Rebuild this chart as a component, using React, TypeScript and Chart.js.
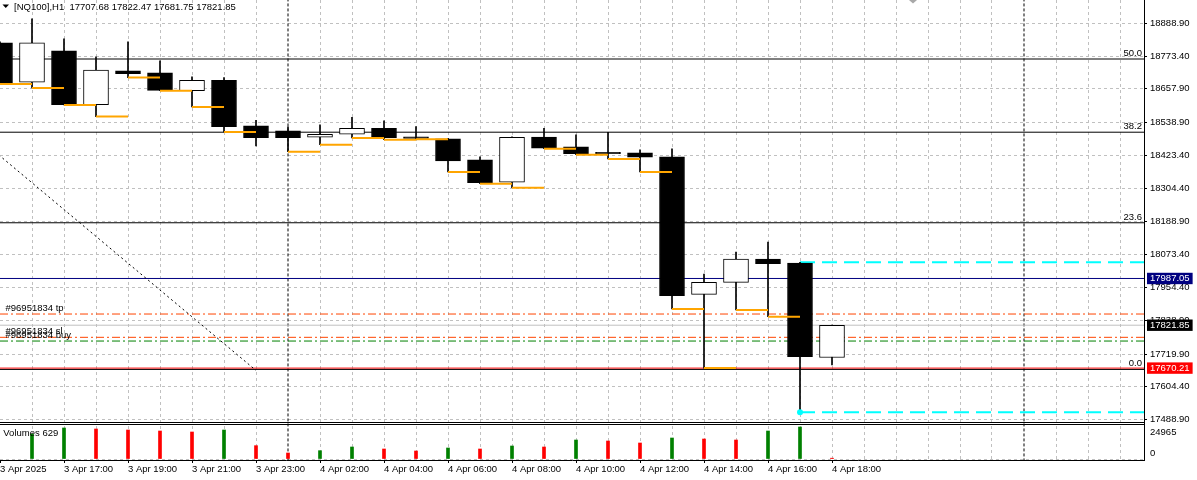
import React, { useEffect, useRef } from 'react';
import { Chart, registerables } from 'chart.js';

Chart.register(...registerables);

const FONT_FAMILY = '"Liberation Sans", Arial, Helvetica, sans-serif';
const FONT_SIZE = 9.5;

// ---- bars (H1, NQ100) ----
const barIndex = [0, 1, 2, 3, 4, 5, 6, 7, 8, 9, 10, 11, 12, 13, 14, 15, 16, 17, 18, 19, 20, 21, 22, 23, 24, 25, 26];
const opens = [18819.9, 18680.9, 18791.6, 18601.7, 18720.9, 18713.8, 18651.2, 18688.0, 18526.4, 18508.7, 18486.4, 18497.0, 18518.2, 18483.9, 18480.4, 18406.1, 18327.2, 18487.4, 18452.1, 18431.6, 18430.9, 18416.7, 17931.1, 17973.5, 18055.9, 18041.8, 17707.68];
const highs = [18823.5, 18904.8, 18834.1, 18770.4, 18823.5, 18756.3, 18699.7, 18697.2, 18545.8, 18522.8, 18529.9, 18557.1, 18544.0, 18523.9, 18482.2, 18416.7, 18488.1, 18518.2, 18494.5, 18504.1, 18441.5, 18445.0, 18002.9, 18080.7, 18116.1, 18044.3, 17822.47];
const lows = [18674.9, 18660.8, 18600.6, 18559.3, 18697.2, 18651.0, 18593.6, 18505.1, 18455.6, 18435.5, 18460.2, 18483.9, 18477.9, 18479.7, 18363.7, 18322.3, 18308.1, 18446.1, 18424.9, 18409.6, 18363.7, 17879.1, 17670.4, 17875.6, 17851.9, 17513.7, 17681.75];
const closes = [18679.5, 18819.9, 18601.7, 18723.4, 18711.3, 18652.0, 18688.0, 18523.9, 18485.0, 18485.0, 18497.0, 18518.2, 18485.0, 18482.2, 18402.6, 18325.8, 18486.4, 18447.5, 18428.4, 18428.0, 18415.7, 17926.1, 17973.5, 18055.9, 18039.3, 17710.4, 17821.85];
const volumes = [null, 19500, 24180, 23400, 22620, 21840, 21060, 22620, 10400, 4680, 6500, 9360, 7800, 6240, 8580, 7800, 10140, 9360, 14820, 14040, 12480, 16380, 15600, 14820, 21840, 24965, 629];
// bars whose low is marked by the orange step segment
const lowMarkBars = [0, 1, 2, 3, 4, 5, 6, 7, 9, 10, 11, 12, 13, 14, 15, 16, 17, 18, 19, 20, 21, 22, 23, 24];

// ---- time axis ----
const gridBars = [0, 1, 2, 3, 4, 5, 6, 7, 8, 9, 10, 11, 12, 13, 14, 15, 16, 17, 18, 19, 20, 21, 22, 23, 24, 25, 26, 27, 28, 29, 30, 31, 32, 33, 34, 35];
const tickBarIndex = [0, 2, 4, 6, 8, 10, 12, 14, 16, 18, 20, 22, 24, 26];
const tickLabels = ['3 Apr 2025', '3 Apr 17:00', '3 Apr 19:00', '3 Apr 21:00', '3 Apr 23:00', '4 Apr 02:00', '4 Apr 04:00', '4 Apr 06:00', '4 Apr 08:00', '4 Apr 10:00', '4 Apr 12:00', '4 Apr 14:00', '4 Apr 16:00', '4 Apr 18:00'];
const separatorBars = [9, 32];

// ---- price axis ----
const priceTicks = [18888.9, 18773.4, 18657.9, 18538.9, 18423.4, 18304.4, 18188.9, 18073.4, 17954.4, 17838.9, 17719.9, 17604.4, 17488.9];
const boxPrices = [17987.05, 17821.85, 17670.21];
const boxColors = ['#000080', '#000000', '#ff0000'];

// ---- objects on chart ----
const fibPrices = [18763.0, 18504.2, 18184.0, 17665.5];
const fibLabels = ['50.0', '38.2', '23.6', '0.0'];
const trendBars = [-1, 8];
const trendPrices = [18515.0, 17662.0];
const bluePrice = 17987.05;
const bidPrice = 17821.85;
const redPrice = 17670.21;
const orderLabels = ['#96951834 tp', '#96951834 sl', '#96951834 buy'];
const orderPrices = [17861.4, 17779.0, 17765.9];
const orderColors = ['#ff4500', '#ff4500', '#008000'];
const cyanStartBar = 25;
const cyanPrices = [18044.3, 17513.7];

const symbolTitle = '[NQ100],H1';

// ---- layout constants ----
const X_MIN = 0;
const X_MAX = 35.75;
const Y_MIN = 17345.3;
const Y_MAX = 18971.6;
const VOL_MIN = -780;
const VOL_MAX = 358112;
const PANEL_LINES = [422.5, 424.5];
const SHIFT_MARK_X = 913;

const GRID = '#c0c0c0';
const CLEAR = 'rgba(0,0,0,0)';

// price value sitting at the same height as a volume value (both axes span the full plot height)
function volToPrice(v: number) {
  const frac = (VOL_MAX - v) / (VOL_MAX - VOL_MIN);
  return Y_MAX - frac * (Y_MAX - Y_MIN);
}

function hLine(price: number, color: string, dash: number[], width = 1, x0 = X_MIN) {
  return {
    type: 'line' as const,
    data: [{ x: x0, y: price }, { x: X_MAX, y: price }],
    borderColor: color,
    borderWidth: width,
    borderDash: dash,
    pointRadius: 0,
    fill: false,
    tension: 0,
    order: 3,
    xAxisID: 'x',
    yAxisID: 'y',
  };
}

function buildConfig(): any {
  const maxVol = Math.max(...(volumes.filter((v) => v !== null) as number[]));
  const lastVol = volumes[volumes.length - 1];

  const wickData = barIndex.map((i) => ({ x: i, y: [lows[i], highs[i]] }));
  const bodyData = barIndex.map((i) => ({ x: i, y: [opens[i], closes[i]] }));
  const bodyBg = barIndex.map((i) => (closes[i] >= opens[i] ? '#ffffff' : '#000000'));

  const volData: any[] = [];
  const volColors: string[] = [];
  barIndex.forEach((i) => {
    const v = volumes[i];
    if (v === null) return;
    const prev = i > 0 ? volumes[i - 1] : null;
    volData.push({ x: i, y: v });
    volColors.push(prev === null || v > (prev as number) ? '#008000' : '#ff0000');
  });

  const orangeData: any[] = [];
  lowMarkBars.forEach((i) => {
    orangeData.push({ x: i, y: lows[i] }, { x: i + 1, y: lows[i] }, { x: i + 1, y: null });
  });

  type TickDef = { value: number; kind: 'price' | 'box' | 'vol'; text: string | string[]; color?: string };
  const yTicks: TickDef[] = [
    ...priceTicks.map((v) => ({ value: v, kind: 'price' as const, text: v.toFixed(2) })),
    ...boxPrices.map((v, i) => ({ value: v, kind: 'box' as const, text: v.toFixed(2), color: boxColors[i] })),
    { value: volToPrice(0), kind: 'vol', text: ['0', ''] },
    { value: volToPrice(maxVol), kind: 'vol', text: ['', String(maxVol)] },
  ];
  const tdef = (c: any): TickDef | undefined => (typeof c.index === 'number' ? yTicks[c.index] : undefined);

  const overlay = {
    id: 'mt4overlay',
    afterDatasetsDraw(chart: any) {
      const { ctx, chartArea: ca, scales } = chart;
      const ys = scales.y;
      ctx.save();
      ctx.strokeStyle = '#000';
      ctx.lineWidth = 1;
      ctx.setLineDash([]);
      PANEL_LINES.forEach((py) => {
        ctx.beginPath();
        ctx.moveTo(ca.left, py);
        ctx.lineTo(ca.right, py);
        ctx.stroke();
      });
      ctx.font = `${FONT_SIZE}px ${FONT_FAMILY}`;
      ctx.fillStyle = '#000';
      ctx.textBaseline = 'middle';
      ctx.beginPath();
      ctx.moveTo(2.5, 4.5);
      ctx.lineTo(9, 4.5);
      ctx.lineTo(5.75, 8);
      ctx.closePath();
      ctx.fill();
      ctx.textAlign = 'left';
      const last = barIndex.length - 1;
      const header = `${symbolTitle}  ${opens[last].toFixed(2)} ${highs[last].toFixed(2)} ${lows[last].toFixed(2)} ${closes[last].toFixed(2)}`;
      ctx.fillText(header, 14, 7);
      orderLabels.forEach((t, i) => {
        ctx.fillText(t, 5.5, ys.getPixelForValue(orderPrices[i]) - 5.7);
      });
      ctx.fillText(`Volumes ${lastVol}`, 3.3, 433);
      ctx.textAlign = 'right';
      fibLabels.forEach((t, i) => {
        ctx.fillText(t, ca.right - 2, ys.getPixelForValue(fibPrices[i]) - 5.7);
      });
      ctx.fillStyle = '#a8a8a8';
      ctx.beginPath();
      ctx.moveTo(SHIFT_MARK_X - 4, 0);
      ctx.lineTo(SHIFT_MARK_X + 4, 0);
      ctx.lineTo(SHIFT_MARK_X, 3.5);
      ctx.closePath();
      ctx.fill();
      ctx.restore();
    },
  };

  const datasets: any[] = [
    {
      type: 'line',
      data: orangeData,
      borderColor: '#ffa500',
      borderWidth: 2,
      pointRadius: 0,
      spanGaps: false,
      fill: false,
      tension: 0,
      order: 0,
      xAxisID: 'x',
      yAxisID: 'y',
    },
    {
      type: 'line',
      data: [{ x: cyanStartBar, y: cyanPrices[1] }],
      showLine: false,
      pointRadius: 3,
      pointBackgroundColor: '#00ffff',
      pointBorderWidth: 0,
      order: 0,
      xAxisID: 'x',
      yAxisID: 'y',
    },
    {
      type: 'bar',
      data: bodyData,
      backgroundColor: bodyBg,
      borderColor: '#000000',
      borderWidth: 1,
      borderSkipped: false,
      barThickness: 25,
      minBarLength: 1.5,
      grouped: false,
      order: 1,
      xAxisID: 'x',
      yAxisID: 'y',
    },
    {
      type: 'bar',
      data: wickData,
      backgroundColor: '#000000',
      borderWidth: 0,
      barThickness: 1,
      grouped: false,
      order: 2,
      xAxisID: 'x',
      yAxisID: 'y',
    },
    {
      type: 'bar',
      data: volData,
      backgroundColor: volColors,
      borderWidth: 0,
      barThickness: 3,
      grouped: false,
      order: 1,
      xAxisID: 'x',
      yAxisID: 'yv',
    },
    ...fibPrices.map((p) => hLine(p, '#000000', [])),
    {
      type: 'line',
      data: trendBars.map((b, i) => ({ x: b, y: trendPrices[i] })),
      borderColor: '#000000',
      borderWidth: 1,
      borderDash: [2, 3],
      pointRadius: 0,
      fill: false,
      order: 3,
      xAxisID: 'x',
      yAxisID: 'y',
    },
    hLine(bluePrice, '#000080', []),
    hLine(bidPrice, '#c0c0c0', []),
    hLine(redPrice, '#ff0000', []),
    ...orderPrices.map((p, i) => hLine(p, orderColors[i], [8, 3, 2, 3])),
    ...cyanPrices.map((p) => hLine(p, '#00ffff', [15, 7], 2, cyanStartBar)),
    ...separatorBars.map((b) => ({
      type: 'line',
      data: [{ x: b, y: Y_MIN - 500 }, { x: b, y: Y_MAX + 500 }],
      borderColor: '#000000',
      borderWidth: 1,
      borderDash: [3, 2],
      pointRadius: 0,
      fill: false,
      order: 4,
      xAxisID: 'x',
      yAxisID: 'y',
    })),
  ];

  return {
    type: 'bar',
    data: { datasets },
    plugins: [overlay],
    options: {
      animation: false,
      responsive: false,
      events: [],
      layout: { padding: 0, autoPadding: false },
      plugins: { legend: { display: false }, tooltip: { enabled: false }, title: { display: false } },
      scales: {
        x: {
          type: 'linear',
          min: X_MIN,
          max: X_MAX,
          offset: false,
          afterBuildTicks: (s: any) => {
            s.ticks = gridBars.map((v) => ({ value: v }));
          },
          afterFit: (s: any) => {
            s.height = 20;
            s.paddingLeft = 0;
            s.paddingRight = 0;
          },
          ticks: {
            autoSkip: false,
            maxRotation: 0,
            minRotation: 0,
            align: 'start',
            padding: 1,
            color: '#000',
            font: { family: FONT_FAMILY, size: FONT_SIZE },
            callback: (v: any) => {
              const j = tickBarIndex.indexOf(Number(v));
              return j >= 0 ? tickLabels[j] : '';
            },
          },
          grid: {
            offset: false,
            color: (c: any) => {
              const v = c.tick ? c.tick.value : -1;
              return v === 0 || separatorBars.indexOf(v) >= 0 ? CLEAR : GRID;
            },
            tickColor: (c: any) => (c.tick && tickBarIndex.indexOf(c.tick.value) >= 0 ? '#000' : CLEAR),
            tickLength: 3,
            lineWidth: 1,
          },
          border: { display: true, color: '#000', width: 1, dash: [3, 3] },
        },
        y: {
          type: 'linear',
          position: 'right',
          min: Y_MIN,
          max: Y_MAX,
          weight: 1,
          afterBuildTicks: (s: any) => {
            s.ticks = yTicks.map((d) => ({ value: d.value }));
          },
          afterFit: (s: any) => {
            s.width = 53;
            s.paddingTop = 0;
            s.paddingBottom = 0;
          },
          ticks: {
            autoSkip: false,
            padding: 3,
            font: { family: FONT_FAMILY, size: FONT_SIZE },
            color: (c: any) => (tdef(c)?.kind === 'box' ? '#ffffff' : '#000000'),
            showLabelBackdrop: (c: any) => tdef(c)?.kind === 'box',
            backdropColor: (c: any) => tdef(c)?.color || CLEAR,
            backdropPadding: { left: 3, right: 3, top: 0, bottom: 0 },
            callback: (_v: any, i: number) => yTicks[i].text,
          },
          grid: {
            color: (c: any) => (tdef(c)?.kind === 'price' ? GRID : CLEAR),
            tickColor: (c: any) => (tdef(c)?.kind === 'price' ? '#000' : CLEAR),
            tickLength: 3,
            lineWidth: 1,
          },
          border: { display: true, color: '#000', width: 1, dash: [3, 3] },
        },
        yv: {
          type: 'linear',
          position: 'right',
          min: VOL_MIN,
          max: VOL_MAX,
          weight: 0,
          afterBuildTicks: (s: any) => {
            s.ticks = [{ value: 0 }];
          },
          afterFit: (s: any) => {
            s.width = 0;
            s.paddingTop = 0;
            s.paddingBottom = 0;
          },
          ticks: { display: false },
          grid: { drawTicks: false, color: GRID, lineWidth: 1 },
          border: { display: false, dash: [3, 3] },
        },
      },
    },
  };
}

export default function App() {
  const ref = useRef<HTMLCanvasElement | null>(null);
  useEffect(() => {
    document.body.style.margin = '0';
    const canvas = ref.current;
    if (!canvas) return;
    const chart = new Chart(canvas, buildConfig());
    return () => chart.destroy();
  }, []);
  return (
    <div style={{ width: 1197, height: 480, background: '#ffffff' }}>
      <canvas ref={ref} width={1197} height={480} style={{ display: 'block', width: '1197px', height: '480px' }} />
    </div>
  );
}
